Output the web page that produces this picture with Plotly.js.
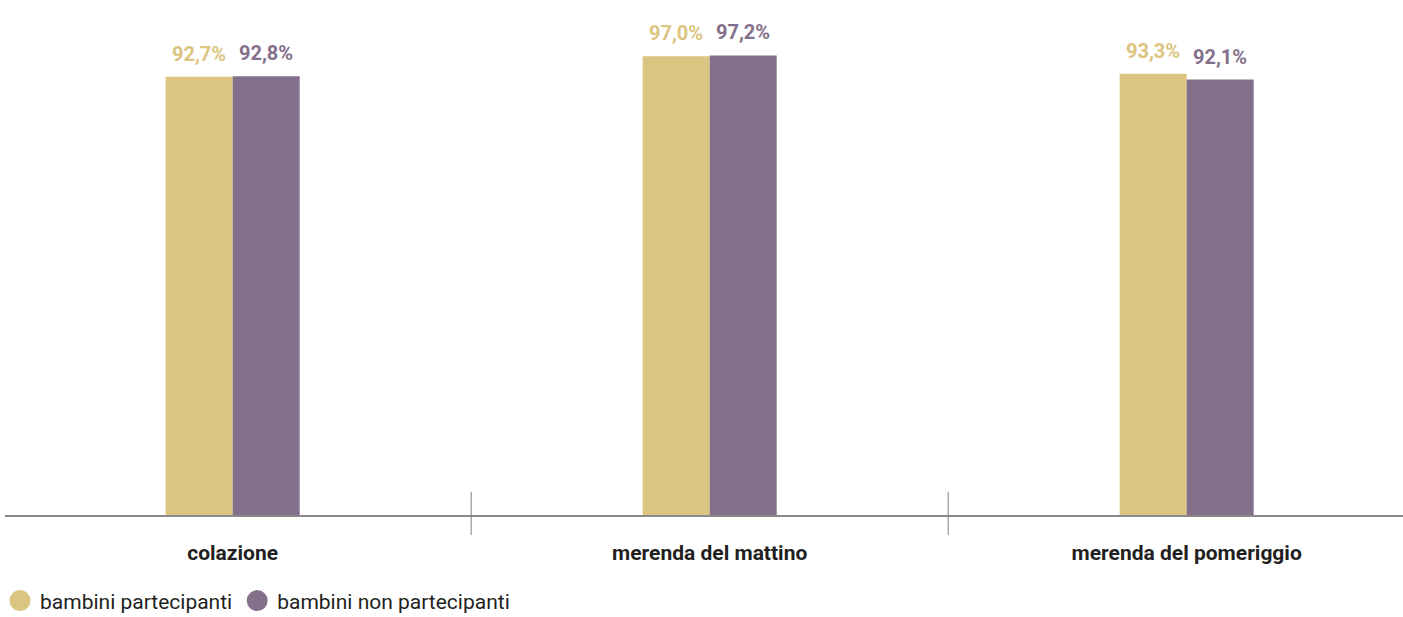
<!DOCTYPE html>
<html>
<head>
<meta charset="utf-8">
<script src="https://cdn.plot.ly/plotly-3.0.1.min.js"></script>
<style>html,body{margin:0;padding:0;background:#fff}#chart{width:1403px;height:617px}</style>
</head>
<body>
<div id="chart"></div>
<script>
const categories = ["colazione", "merenda del mattino", "merenda del pomeriggio"];
const seriesNames = ["bambini partecipanti", "bambini non partecipanti"];
const partecipanti = [92.7, 97.0, 93.3];
const nonPartecipanti = [92.8, 97.2, 92.1];
const colors = ["#dcc580", "#84708b"];

const FONT = "Roboto, sans-serif";
const series = [partecipanti, nonPartecipanti];

const traces = series.map((vals, s) => ({
  type: "bar",
  x: categories,
  y: vals,
  name: seriesNames[s],
  marker: {color: colors[s]},
  showlegend: false,
  hoverinfo: "skip"
}));
series.forEach((vals, s) => traces.push({
  type: "scatter",
  mode: "markers",
  x: [categories[0]],
  y: [null],
  name: seriesNames[s],
  marker: {color: colors[s], size: 16, symbol: "circle", line: {color: colors[s], width: 5}},
  showlegend: true
}));

const annotations = [];
series.forEach((vals, s) => vals.forEach((v, i) => annotations.push({
  x: categories[i], y: v, xref: "x", yref: "y",
  text: v.toFixed(1).replace(".", ",") + "%",
  showarrow: false, yanchor: "bottom", xanchor: "center",
  xshift: (s === 0 ? -1 : 1) * 33.5, yshift: 9,
  font: {family: FONT, size: 20, color: colors[s], weight: 700}
})));

const shapes = categories.slice(1).map((c, i) => ({
  type: "line", xref: "x", yref: "paper", x0: i + 0.5, x1: i + 0.5,
  ysizemode: "pixel", yanchor: 0, y0: -20, y1: 23,
  line: {color: "#7f7f7f", width: 1}
}));

const layout = {
  width: 1403, height: 617,
  margin: {l: 5, r: 0, t: 10, b: 102},
  paper_bgcolor: "#fff", plot_bgcolor: "#fff",
  barmode: "group", bargap: 0.719, bargroupgap: 0,
  xaxis: {
    type: "category", range: [-0.4773, 2.4535],
    showline: true, linecolor: "#8a8a8a", linewidth: 1.5,
    showgrid: false, zeroline: false, ticks: "", ticklabelstandoff: 18,
    tickfont: {family: FONT, size: 21, color: "#231f20", weight: 700}
  },
  yaxis: {range: [0, 106.8], visible: false, showgrid: false, zeroline: false},
  showlegend: true,
  legend: {
    orientation: "h", xref: "container", yref: "container",
    x: 0, y: 0.026, xanchor: "left", yanchor: "middle",
    font: {family: FONT, size: 21, color: "#231f20"},
    itemclick: false, itemdoubleclick: false
  },
  annotations: annotations,
  shapes: shapes,
  hovermode: false
};

Plotly.newPlot("chart", traces, layout, {displayModeBar: false, staticPlot: true});
</script>
</body>
</html>
